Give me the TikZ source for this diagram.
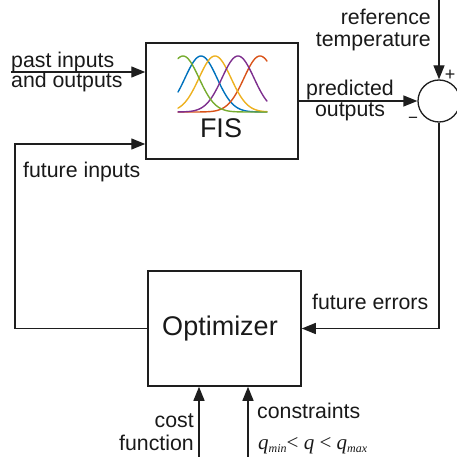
\documentclass[tikz,border=0pt]{standalone}
\usepackage{fontspec}
\setmainfont{Liberation Sans}
\newfontfamily\tmsfont{Liberation Serif}
\usetikzlibrary{arrows.meta}
\definecolor{mblue}{RGB}{0,114,189}
\definecolor{morange}{RGB}{217,83,25}
\definecolor{myellow}{RGB}{237,177,32}
\definecolor{mpurple}{RGB}{126,47,142}
\definecolor{mgreen}{RGB}{119,172,48}
\definecolor{linegray}{RGB}{30,30,30}
\begin{document}
\begin{tikzpicture}[x=1pt,y=-1pt,
  blockbox/.style={draw=linegray, line width=1.5pt, inner sep=0pt},
  arr/.style={draw=linegray, line width=1.3pt, -{Triangle[length=14pt,width=11pt]}},
  lbl/.style={inner sep=0pt, text=black!90, font=\fontsize{21.3}{24}\selectfont},
  mf/.style={line width=1.4pt, line cap=round}]
\useasboundingbox (0,0) rectangle (456,457);
% blocks
\node[blockbox, minimum width=152pt, minimum height=116pt] (fis) at (222,101) {};
\node[blockbox, minimum width=153pt, minimum height=115pt,
  font=\fontsize{27}{30}\selectfont, text=black!90] (opt) at (224.5,328.5) {\hspace*{-9pt}Optimizer};
\node[draw=linegray, line width=1.3pt, circle, minimum size=42pt, inner sep=0pt] (sum) at (439,101) {};
% membership functions
\draw[mf, mblue]   plot[domain=178:267, samples=70] (\x,{112-56*exp(-((\x-201)^2)/512)});
\draw[mf, morange] plot[domain=178:267, samples=70] (\x,{112-56*exp(-((\x-260)^2)/512)});
\draw[mf, myellow] plot[domain=178:267, samples=70] (\x,{112-56*exp(-((\x-215)^2)/512)});
\draw[mf, mpurple] plot[domain=178:267, samples=70] (\x,{112-56*exp(-((\x-238)^2)/512)});
\draw[mf, mgreen]  plot[domain=178:267, samples=70] (\x,{112-56*exp(-((\x-183)^2)/512)});
\node[inner sep=0pt, anchor=base, font=\fontsize{27}{30}\selectfont, text=black!90] (fislabel) at (221,138) {FIS};
% coordinates for free ends
\coordinate (pastin) at (11,72);
\coordinate (refin) at (439,0);
\coordinate (fbk) at (15,144);
\coordinate (costin) at (199,457);
\coordinate (consin) at (248,457);
% connectors
\draw[arr] (pastin) -- (fis.west |- pastin);
\draw[arr] (refin) -- (sum.north);
\draw[arr] (fis.east |- sum.west) -- (sum.west);
\draw[arr] (sum.south) |- (opt.east);
\draw[arr] (opt.west) -| (fbk) -- (fis.west |- fbk);
\draw[arr] (costin) -- (opt.south -| costin);
\draw[arr] (consin) -- (opt.south -| consin);
% labels
\node[lbl, anchor=base west] (pastA) at (11,68) {past inputs};
\node[lbl, anchor=base west] (pastB) at (11,88) {and outputs};
\node[lbl, anchor=base east] (refA) at (431,25) {reference};
\node[lbl, anchor=base east] (refB) at (431,47) {temperature};
\node[lbl, anchor=base] (predA) at (350,96) {predicted};
\node[lbl, anchor=base] (predB) at (350,117) {outputs};
\node[inner sep=0pt, text=black!90, font=\fontsize{18}{18}\selectfont] (plus) at (450,75) {+};
\node[inner sep=0pt, text=black!90, font=\fontsize{17}{17}\selectfont] (minus) at (413,120) {−};
\node[lbl, anchor=base west] (futin) at (23,177) {future inputs};
\node[lbl, anchor=base west] (futerr) at (312,309) {future errors};
\node[lbl, anchor=base east] (costA) at (194,427) {cost};
\node[lbl, anchor=base east] (costB) at (194,450) {function};
\node[lbl, anchor=base west] (consA) at (257,418) {constraints};
\node[lbl, anchor=base west, font=\fontsize{21}{24}\tmsfont] (qrange) at (258,449)
  {\textit{q}\raisebox{-3.5pt}{\fontsize{12}{12}\selectfont\textit{min}}<\ \textit{q}\ <\ \textit{q}\raisebox{-3.5pt}{\fontsize{12}{12}\selectfont\textit{max}}};
\end{tikzpicture}
\end{document}
